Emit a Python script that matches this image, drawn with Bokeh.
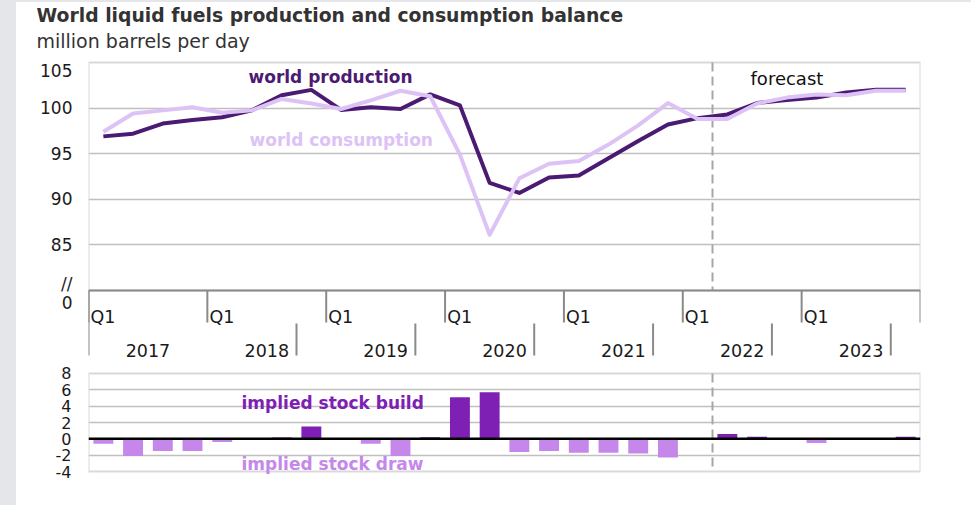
from bokeh.plotting import figure
from bokeh.models import Range1d, FixedTicker, Title, Spacer
from bokeh.layouts import column, row
from bokeh.core.properties import value
from bokeh.embed import file_html
from bokeh.resources import INLINE

# ---------------- data ----------------
years = ["2017", "2018", "2019", "2020", "2021", "2022", "2023"]
quarter_label = "Q1"
production = [96.9, 97.2, 98.3, 98.7, 99.0, 99.75, 101.4, 102.0,
              99.8, 100.1, 99.9, 101.5, 100.3, 91.8, 90.7, 92.4,
              92.6, 94.5, 96.4, 98.2, 98.9, 99.3, 100.55, 100.9,
              101.15, 101.7, 102.0, 102.0]
consumption = [97.4, 99.4, 99.75, 100.1, 99.5, 99.75, 101.0, 100.5,
               99.9, 100.85, 101.9, 101.3, 94.9, 86.1, 92.3, 93.9,
               94.2, 96.0, 98.1, 100.55, 98.8, 98.8, 100.5, 101.15,
               101.5, 101.4, 101.9, 101.9]
stock_change = [-0.6, -2.1, -1.5, -1.5, -0.4, 0.0, 0.15, 1.5,
                0.0, -0.6, -2.1, 0.2, 5.1, 5.7, -1.6, -1.5,
                -1.7, -1.7, -1.8, -2.3, 0.0, 0.6, 0.25, 0.0,
                -0.5, 0.1, 0.1, 0.25]
forecast_start = 21  # quarter index where forecast begins
top_ticks = {78.63: "0", 80.66: "//", 85: "85", 90: "90", 95: "95", 100: "100", 104.07: "105"}
top_grid = [85, 90, 95, 100]
bottom_ticks = [-4, -2, 0, 2, 4, 6, 8]
bottom_grid = [-2, 2, 4, 6]

FONT = "DejaVu Sans"
PROD_C = "#4B1A72"
CONS_C = "#DDC2F5"
BUILD_C = "#7E20B4"
DRAW_C = "#C587E9"
GRID_C = "#c0c0c0"
BOX_C = "#d9d9d9"
AXIS_C = "#8a8a8a"
BG = {"background-color": "#e5e6ea"}

n = len(production)
xs = [i + 0.5 for i in range(n)]

# ---------------- top chart ----------------
p = figure(width=955, height=358, x_range=Range1d(0, n), y_range=Range1d(72.544, 105.548),
           output_backend="svg", toolbar_location=None, x_axis_location=None, title=None,
           min_border_left=72, min_border_right=51, min_border_top=55, min_border_bottom=2)
p.outline_line_color = None
p.xgrid.visible = False
p.ygrid.ticker = FixedTicker(ticks=top_grid)
p.ygrid.grid_line_color = GRID_C
p.ygrid.grid_line_width = 1.5
ya = p.yaxis[0]
ya.ticker = FixedTicker(ticks=list(top_ticks.keys()))
ya.major_label_overrides = top_ticks
ya.axis_line_color = None
ya.major_tick_line_color = None
ya.minor_tick_line_color = None
ya.major_tick_out = 0
ya.major_tick_in = 0
ya.major_label_standoff = 16
ya.major_label_text_font = FONT
ya.major_label_text_font_size = "17px"
ya.major_label_text_color = "#1a1a1a"

# chart box
p.quad(left=[0], right=[n], bottom=[80], top=[105], fill_color=None, line_color=BOX_C, line_width=2)
# forecast divider
p.segment(x0=[forecast_start], y0=[105], x1=[forecast_start], y1=[80], line_color="#a6a6a6",
          line_width=2, line_dash="9 5")
# category axis drawn as segments
p.segment(x0=[0], y0=[80], x1=[n], y1=[80], line_color=AXIS_C, line_width=2)
q1 = list(range(0, n + 1, 4))
p.segment(x0=q1, y0=[80] * len(q1), x1=q1, y1=[76.49] * len(q1), line_color=AXIS_C, line_width=2)
seps = [4 * k + 3 for k in range(1, len(years))]
p.segment(x0=seps, y0=[76.38] * len(seps), x1=seps, y1=[72.87] * len(seps), line_color=AXIS_C, line_width=2)
p.segment(x0=[0], y0=[80], x1=[0], y1=[72.87], line_color=AXIS_C, line_width=2)
p.text(x=[q + 0.07 for q in q1[:-1]], y=[77.07] * (len(q1) - 1), text=[quarter_label] * (len(q1) - 1),
       text_font=value(FONT), text_font_size="17.5px", text_color="#1a1a1a",
       text_align="left", text_baseline="alphabetic")
p.text(x=[4 * k + 2 for k in range(len(years))], y=[73.42] * len(years), text=years,
       text_font=value(FONT), text_font_size="17.5px", text_color="#1a1a1a",
       text_align="center", text_baseline="alphabetic")

# lines
p.line(xs, production, line_color=PROD_C, line_width=4, line_join="round")
p.line(xs, consumption, line_color=CONS_C, line_width=4, line_join="round")

p.text(x=[5.385], y=[103.41], text=["world production"], text_font=value(FONT),
       text_font_size="17px", text_font_style="bold", text_color=PROD_C,
       text_align="left", text_baseline="alphabetic")
p.text(x=[5.42], y=[96.52], text=["world consumption"], text_font=value(FONT),
       text_font_size="17px", text_font_style="bold", text_color=CONS_C,
       text_align="left", text_baseline="alphabetic")
p.text(x=[22.28], y=[103.21], text=["forecast"], text_font=value(FONT),
       text_font_size="18px", text_color="#111111",
       text_align="left", text_baseline="alphabetic")

p.add_layout(Title(text="million barrels per day", align="left", offset=-52, standoff=11,
                   text_font=FONT, text_font_size="19px", text_font_style="normal",
                   text_color="#333333"), "above")
p.add_layout(Title(text="World liquid fuels production and consumption balance", align="left",
                   offset=-52, standoff=-7, text_font=FONT, text_font_size="18.8px",
                   text_font_style="bold", text_color="#333333"), "above")

# ---------------- bottom chart ----------------
b = figure(width=955, height=138, x_range=Range1d(0, n), y_range=Range1d(-4.857, 8.857),
           output_backend="svg", toolbar_location=None, x_axis_location=None, title=None,
           min_border_left=72, min_border_right=51, min_border_top=6, min_border_bottom=20)
b.outline_line_color = None
b.xgrid.visible = False
b.ygrid.ticker = FixedTicker(ticks=bottom_grid)
b.ygrid.grid_line_color = GRID_C
b.ygrid.grid_line_width = 1.5
yb = b.yaxis[0]
yb.ticker = FixedTicker(ticks=bottom_ticks)
yb.major_label_overrides = {t: str(t) for t in bottom_ticks}
yb.axis_line_color = None
yb.major_tick_line_color = None
yb.minor_tick_line_color = None
yb.major_tick_out = 0
yb.major_tick_in = 0
yb.major_label_standoff = 17
yb.major_label_text_font = FONT
yb.major_label_text_font_size = "16px"
yb.major_label_text_color = "#1a1a1a"

b.quad(left=[0], right=[n], bottom=[-4], top=[8], fill_color=None, line_color=BOX_C, line_width=2)
b.segment(x0=[forecast_start], y0=[8], x1=[forecast_start], y1=[-4], line_color="#a6a6a6",
          line_width=2, line_dash="9 5")
bar_colors = [BUILD_C if v >= 0 else DRAW_C for v in stock_change]
b.vbar(x=xs, top=stock_change, bottom=0, width=0.67, fill_color=bar_colors, line_color=None)
b.segment(x0=[0], y0=[0], x1=[n], y1=[0], line_color="black", line_width=2.5)

b.text(x=[5.15], y=[4.36], text=["implied stock build"], text_font=value(FONT),
       text_font_size="17px", text_font_style="bold", text_color=BUILD_C,
       text_align="left", text_baseline="alphabetic")
b.text(x=[5.15], y=[-3.14], text=["implied stock draw"], text_font=value(FONT),
       text_font_size="17px", text_font_style="bold", text_color=DRAW_C,
       text_align="left", text_baseline="alphabetic")

top_strip = Spacer(width=971, height=2, styles=BG)
left_strip = Spacer(width=16, height=503, styles=BG)
layout = column(top_strip, row(left_strip, column(p, b)))
open("out.html", "w").write(file_html(layout, INLINE))
